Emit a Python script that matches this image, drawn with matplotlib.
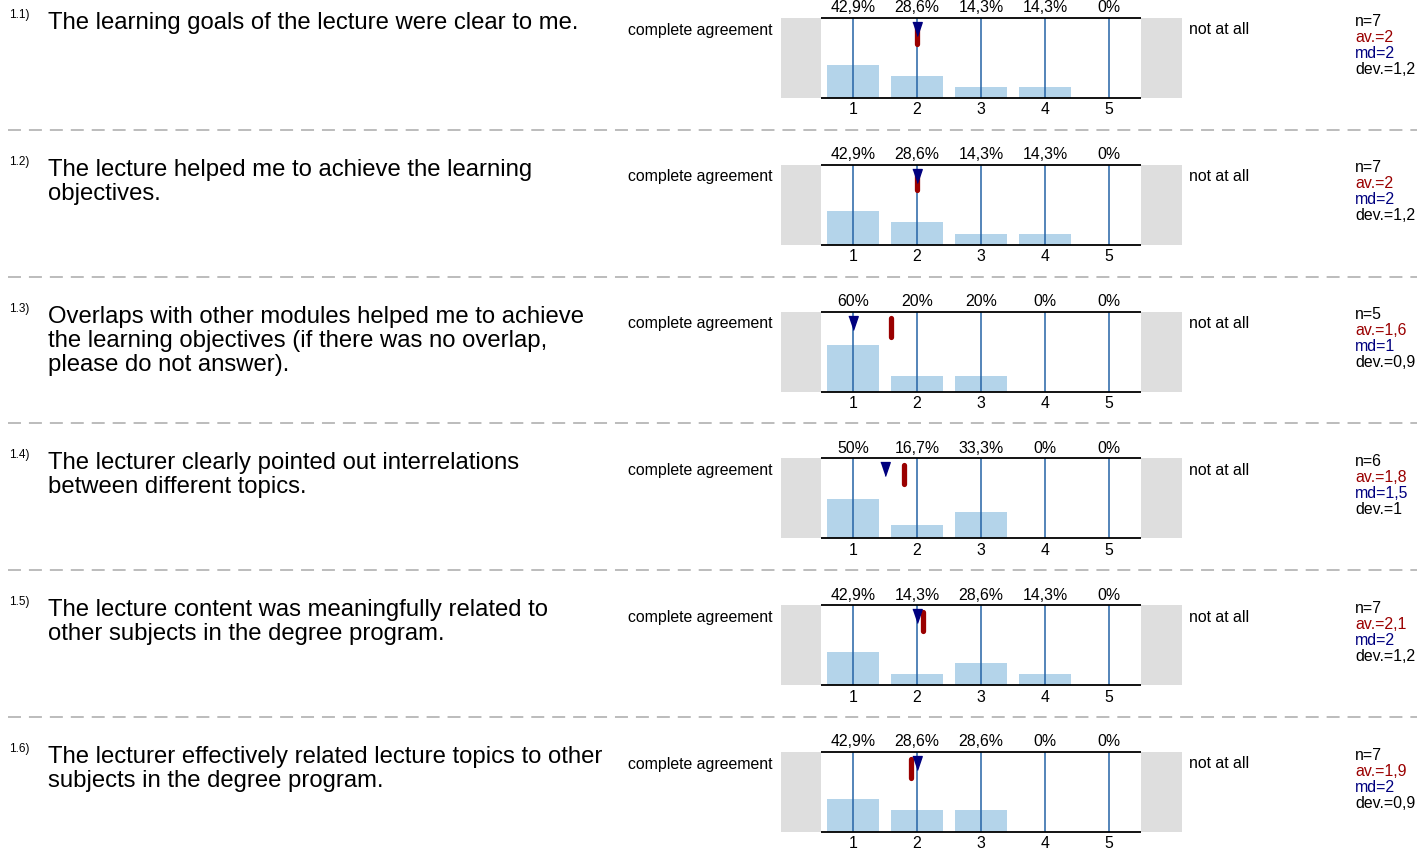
#!/usr/bin/env python3
"""Course evaluation: rating distributions per question."""

import matplotlib.pyplot as plt
from matplotlib.transforms import blended_transform_factory

W, H = 1417, 850

numbers = ["1.1)", "1.2)", "1.3)", "1.4)", "1.5)", "1.6)"]
questions = [
    "The learning goals of the lecture were clear to me.",
    "The lecture helped me to achieve the learning\nobjectives.",
    "Overlaps with other modules helped me to achieve\nthe learning objectives (if there was no overlap,\nplease do not answer).",
    "The lecturer clearly pointed out interrelations\nbetween different topics.",
    "The lecture content was meaningfully related to\nother subjects in the degree program.",
    "The lecturer effectively related lecture topics to other\nsubjects in the degree program.",
]
scale = [1, 2, 3, 4, 5]
percents = [
    [42.9, 28.6, 14.3, 14.3, 0],
    [42.9, 28.6, 14.3, 14.3, 0],
    [60, 20, 20, 0, 0],
    [50, 16.7, 33.3, 0, 0],
    [42.9, 14.3, 28.6, 14.3, 0],
    [42.9, 28.6, 28.6, 0, 0],
]
n_vals = [7, 7, 5, 6, 7, 7]
means = [2, 2, 1.6, 1.8, 2.1, 1.9]
medians = [2, 2, 1, 1.5, 2, 2]
devs = [1.2, 1.2, 0.9, 1, 1.2, 0.9]
left_label = "complete agreement"
right_label = "not at all"

FONT = ["Liberation Sans", "DejaVu Sans"]
BAR_COLOR = "#b4d4ea"
LINE_BLUE = "#2563a6"
MEAN_RED = "#9a0000"
MED_BLUE = "#00007f"
GRAY = "#dedede"


def fmt(v):
    if float(v).is_integer():
        return f"{int(v)}"
    return f"{v:.1f}".replace(".", ",")


def fx(px):
    return px / W


def fy(py):
    return 1 - py / H


def main() -> None:
    plt.rcParams["font.family"] = FONT
    fig = plt.figure(figsize=(W / 100, H / 100), dpi=100)

    row_h = 146.8
    box_top0 = 18
    box_h = 80
    ax_left, ax_right = 781, 1182
    unit = 64  # px per scale step
    ytop = 80 / 78

    # dashed separators
    bg = fig.add_axes([0, 0, 1, 1])
    bg.set_xlim(0, W)
    bg.set_ylim(H, 0)
    bg.axis("off")
    for i in range(1, len(questions)):
        y = box_top0 + i * row_h - 35
        bg.plot([8, W], [y, y], color="#aaaaaa", lw=1.1, dashes=(8.5, 5.2))

    for i, q in enumerate(questions):
        top = box_top0 + i * row_h

        fig.text(fx(9), fy(top - 9), numbers[i], fontsize=8.5, va="top", ha="left")
        fig.text(fx(48), fy(top - 6), q, fontsize=17.2, va="top", ha="left",
                 linespacing=1.12)

        fig.text(fx(773), fy(top + 12), left_label, fontsize=11.4,
                 va="center", ha="right")
        fig.text(fx(1189), fy(top + 12), right_label, fontsize=11.4,
                 va="center", ha="left")

        stats = [
            (f"n={n_vals[i]}", "black"),
            (f"av.={fmt(means[i])}", MEAN_RED),
            (f"md={fmt(medians[i])}", MED_BLUE),
            (f"dev.={fmt(devs[i])}", "black"),
        ]
        for k, (s, c) in enumerate(stats):
            fig.text(fx(1355), fy(top + 3 + 16 * k), s, fontsize=11.4,
                     color=c, va="center", ha="left")

        ax = fig.add_axes([fx(ax_left), fy(top + box_h), (ax_right - ax_left) / W,
                           box_h / H])
        x0 = 0.5 - (821 - ax_left) / unit
        x1 = 5.5 + (ax_right - 1141) / unit
        ax.set_xlim(x0, x1)
        ax.set_ylim(0, ytop)
        ax.axis("off")
        ax.axvspan(x0, 0.5, color=GRAY, lw=0)
        ax.axvspan(5.5, x1, color=GRAY, lw=0)

        ax.bar(scale, [p / 100 for p in percents[i]], width=0.8,
               color=BAR_COLOR, zorder=1)
        ax.vlines(scale, 0, ytop, color=LINE_BLUE, lw=1.1, zorder=2)
        ax.hlines([0, ytop], 0.5, 5.5, color="black", lw=1.3, zorder=3,
                  clip_on=False)

        tr = blended_transform_factory(ax.transData, ax.transAxes)
        for xv, p in zip(scale, percents[i]):
            ax.text(xv, 1 + 10 / box_h, fmt(p) + "%", transform=tr,
                    fontsize=11.4, ha="center", va="center")
            ax.text(xv, -12 / box_h, str(xv), transform=tr,
                    fontsize=11.4, ha="center", va="center")

        ax.plot([means[i], means[i]], [1 - 6.5 / box_h, 1 - 25.5 / box_h],
                transform=tr, color=MEAN_RED, lw=3.8, solid_capstyle="round",
                zorder=4, clip_on=False)
        tri = [(-0.34, 0.5), (0.34, 0.5), (0, -0.5)]
        ax.plot([medians[i]], [1 - 11 / box_h], transform=tr, marker=tri,
                markersize=10, color=MED_BLUE, lw=0, zorder=5, clip_on=False)

    fig.savefig("out.png", dpi=100)
    plt.close(fig)


if __name__ == "__main__":
    main()
